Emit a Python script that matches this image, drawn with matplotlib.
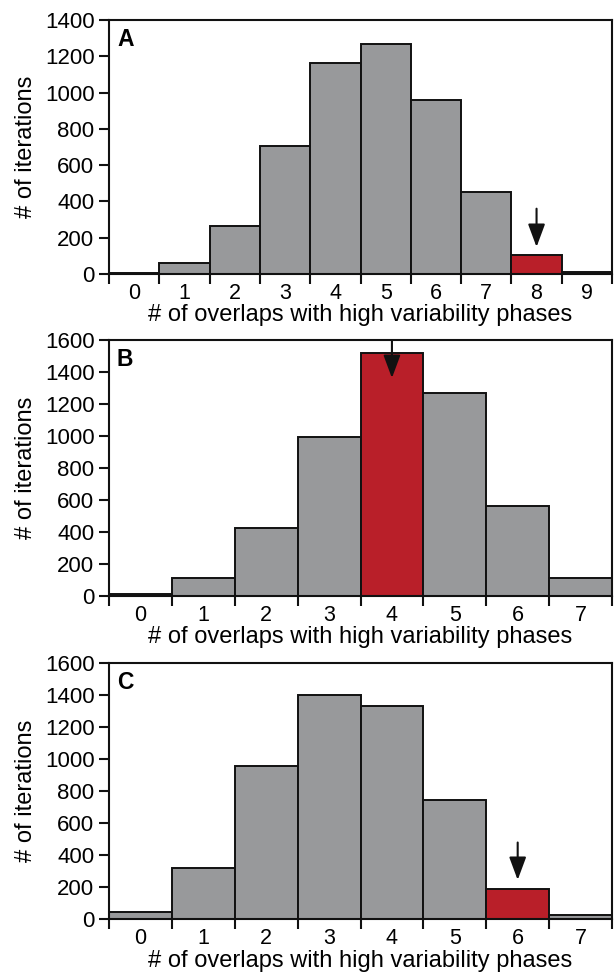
import matplotlib
matplotlib.use("Agg")
import matplotlib.pyplot as plt
import numpy as np

plt.rcParams['font.family'] = ['Liberation Sans', 'DejaVu Sans']

# Data
counts_A = [7, 60, 264, 705, 1165, 1266, 960, 454, 104, 12]
counts_B = [12, 111, 425, 996, 1519, 1274, 561, 111]
counts_C = [44, 317, 956, 1397, 1332, 745, 188, 23]
highlight = {"A": 8, "B": 4, "C": 6}
ymax = {"A": 1400, "B": 1600, "C": 1600}
arrows = {"A": (360, 149), "B": (1600, 1365), "C": (478, 244)}
panels = ["A", "B", "C"]
data = {"A": counts_A, "B": counts_B, "C": counts_C}
xlabel = "# of overlaps with high variability phases"
ylabel = "# of iterations"

gray = "#98999b"
red = "#b91f29"

W, H = 615, 972
fig = plt.figure(figsize=(W / 100, H / 100), dpi=100)

# axes pixel boxes (left, top, right, bottom)
boxes = {"A": (109, 20, 612, 274), "B": (109, 340.5, 612, 596), "C": (109, 663, 612, 919)}

for p in panels:
    l, t, r, b = boxes[p]
    hgt = b - t
    ax = fig.add_axes([l / W, 1 - b / H, (r - l) / W, hgt / H])
    vals = data[p]
    n = len(vals)
    x = np.arange(n)
    colors = [red if i == highlight[p] else gray for i in range(n)]
    ax.bar(x, vals, width=1.0, color=colors, edgecolor="#111111", linewidth=1.4, zorder=2)
    ax.set_xlim(-0.5, n - 0.5)
    ax.set_ylim(0, ymax[p])
    ax.set_yticks(np.arange(0, ymax[p] + 1, 200))
    ax.set_xticks(np.arange(n + 1) - 0.5)
    ax.set_xticklabels([])
    ax.set_xticks(x, minor=True)
    ax.set_xticklabels([str(i) for i in x], minor=True)
    ax.tick_params(axis="x", which="major", direction="out", length=7, width=1.5, color="#111111")
    ax.tick_params(axis="x", which="minor", length=0, labelsize=15.5, pad=6.3)
    ax.tick_params(axis="y", direction="out", length=7, width=1.5, labelsize=16, pad=3.5, color="#111111")
    for s in ax.spines.values():
        s.set_linewidth(1.5)
        s.set_color("#111111")
    ax.set_xlabel(xlabel, fontsize=17)
    ax.xaxis.label.set_va("top")
    ax.xaxis.set_label_coords(0.5, -30.5 / hgt)
    ax.set_ylabel(ylabel, fontsize=17)
    ax.yaxis.label.set_va("center")
    ax.yaxis.set_label_coords(-(109 - 26) / (r - l), 0.5)
    ax.text(8 / (r - l), 1 - 8 / hgt, p, transform=ax.transAxes, fontsize=16.5,
            fontweight="bold", va="top", ha="left")
    y0, y1 = arrows[p]
    hx = highlight[p]
    ax.annotate("", xy=(hx, y1), xytext=(hx, y0),
                arrowprops=dict(arrowstyle="-|>,head_length=1.4,head_width=0.52", color="#111111",
                                lw=1.5, shrinkA=0, shrinkB=0),
                annotation_clip=False, zorder=5)

fig.savefig("out.png", dpi=100)
